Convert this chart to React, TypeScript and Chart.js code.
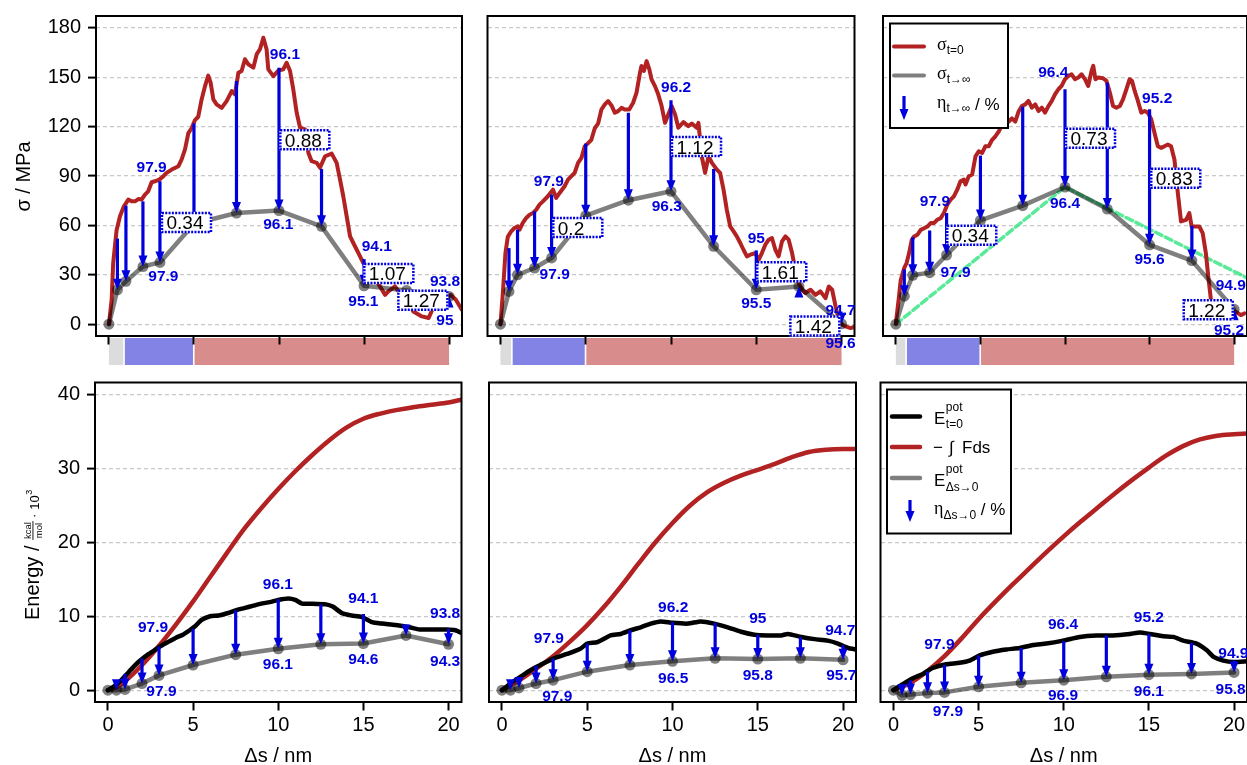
import React, { useEffect, useRef } from "react";
import { Chart, registerables } from "chart.js";
Chart.register(...registerables);

const W = 1247;
const H = 765;
const SANS = '"Liberation Sans", Arial, Helvetica, sans-serif';
const SERIF = '"Liberation Serif", "DejaVu Serif", serif';
const RED = "#b22222";
const BLUE = "#0000dd";
const GRAY_T = "rgba(0,0,0,0.5)";
const GREEN = "rgba(60,230,135,0.85)";
const STRIP_COLORS = ["#dcdcdc", "#8383e6", "#d98c8c"];

type Pair = [number, number];

// ---------------- shared axes ----------------
const xTicks = [0, 5, 10, 15, 20];
const sigmaTicks = [0, 30, 60, 90, 120, 150, 180];
const energyTicks = [0, 10, 20, 30, 40];
const samplePoints = [0, 0.5, 1, 2, 3, 5, 7.5, 10, 12.5, 15, 17.5, 20];

// ---------------- stress panel 1 ----------------
const sigmaT0_1: Pair[] = [[0,0],[0.16,14.8],[0.25,37],[0.45,57],[0.65,65.5],[0.88,71.6],[1.14,75.7],[1.33,74.6],[1.53,74.6],[1.73,76],[1.92,75.7],[2.12,78.7],[2.31,80.7],[2.51,86.2],[2.7,86.8],[2.96,87.8],[3.2,89.9],[3.39,91.9],[3.69,93.9],[3.88,94.9],[4.08,95.9],[4.27,100],[4.47,106],[4.67,116],[4.86,119],[5.06,124],[5.25,126],[5.45,136.5],[5.65,144.6],[5.84,151],[5.98,146.7],[6.14,136.5],[6.33,133.5],[6.63,131.4],[6.92,135.5],[7.22,141.6],[7.41,139.6],[7.61,152.7],[7.8,153.8],[8.0,160.9],[8.2,157.8],[8.49,155.8],[8.69,164],[8.88,167],[9.08,174],[9.27,167],[9.37,154.8],[9.67,150.7],[9.96,154],[10.25,154.8],[10.45,158.8],[10.65,153.8],[10.84,142.6],[11.04,128.4],[11.24,119.3],[11.53,118.3],[11.73,104],[11.92,99],[12.22,98],[12.41,95],[12.71,102],[13.1,103.6],[13.39,98],[13.59,87.8],[13.78,77.7],[13.98,65.5],[14.18,53.3],[14.37,49.3],[14.67,43.2],[14.96,37.1],[15.25,32],[15.55,29],[15.94,22.9],[16.24,17.8],[16.43,19.9],[16.82,22.9],[17.1,18.9],[17.5,14.8],[17.9,7.7],[18.4,4.7],[18.8,3.7],[19.1,10.8],[19.5,15.8],[20.1,17.8],[20.4,14.8],[20.75,8.7]];
const sigmaInf_1 = [0, 20.9, 26, 35, 37.5, 61, 67.5, 69, 59.4, 23.3, 20.5, 16.8];
const arrowTopS_1 = [null, 52, 72, 74.6, 86.8, 122, 147.7, 155.8, 94.3, 39.5, 16, 12];
const labelTextS_1 = ["97.9", "97.9", "96.1", "96.1", "94.1", "95.1", "93.8", "95"];
const labelXS_1 = [2.51, 3.2, 10.35, 9.96, 15.75, 14.96, 19.76, 19.76];
const labelYS_1 = [94.9, 29, 163.9, 60.4, 47.3, 13.8, 26, 2.2];
const boxTextS_1 = ["0.34", "0.88", "1.07", "1.27"];
const boxXS_1 = [3.06, 10.02, 14.96, 16.96];
const boxYS_1 = [61.8, 112, 30.8, 14.5];
const phaseBounds_1 = [0, 0.9, 5, 20];

// ---------------- stress panel 2 ----------------
const sigmaT0_2: Pair[] = [[0,0],[0.14,18.9],[0.29,43],[0.43,53],[0.63,56.4],[0.82,58.4],[1.02,59.4],[1.12,57.4],[1.31,61.5],[1.51,64.5],[1.71,66.5],[1.9,67.5],[2.1,69.6],[2.29,72.6],[2.49,74.6],[2.78,77.7],[3.08,81.7],[3.27,76.7],[3.47,79.7],[3.76,83.8],[3.96,87.8],[4.16,89.9],[4.35,91.9],[4.55,98],[4.75,101],[4.94,108],[5.14,110],[5.33,112],[5.53,119],[5.73,122],[5.92,130.4],[6.12,133.5],[6.31,135.5],[6.51,132.9],[6.71,128.4],[6.9,129.4],[7.1,131.4],[7.29,130.4],[7.55,130.4],[7.78,134.5],[7.98,140.6],[8.18,152.7],[8.27,156.8],[8.41,153.8],[8.57,159.8],[8.73,154.8],[8.86,148.7],[9.06,144.6],[9.25,139.6],[9.45,132.5],[9.65,122.3],[9.84,127.4],[10.04,132.5],[10.24,127.4],[10.43,119.3],[10.73,122.7],[11.02,120.3],[11.22,121.9],[11.51,119.3],[11.61,122.3],[11.8,102],[12,91.9],[12.2,102],[12.4,98],[12.69,93.9],[12.88,91.9],[13.08,81.7],[13.27,69.6],[13.47,59.4],[13.67,56.4],[13.86,53.3],[14.06,49.3],[14.25,45.2],[14.45,41.2],[14.65,42.2],[14.94,43.2],[15.14,39.1],[15.33,43.2],[15.53,48.3],[15.73,51.3],[15.92,52.3],[16.12,45.2],[16.31,41.2],[16.51,50.3],[16.71,53.3],[16.9,51.3],[17.1,43.2],[17.29,33.1],[17.49,24.9],[17.69,20.9],[17.88,18.9],[18.18,20.9],[18.47,17.8],[18.76,19.9],[19.06,15.8],[19.25,22.9],[19.45,20.9],[19.65,10.8],[19.84,2.6],[20.04,-0.4],[20.24,-1.4],[20.53,-2.4],[20.82,-1.4]];
const sigmaInf_2 = [0, 19.9, 30, 34.1, 40.2, 65.9, 75.3, 80.7, 47.3, 20.9, 22.9, 0.2];
const arrowTopS_2 = [null, 46.2, 57.4, 68.6, 78.7, 109.7, 128.4, 136, 94.3, 44.8, 17, 5];
const labelTextS_2 = ["97.9", "97.9", "96.2", "96.3", "95", "95.5", "94.7", "95.6"];
const labelXS_2 = [2.84, 3.18, 10.3, 9.75, 15, 15, 19.94, 19.94];
const labelYS_2 = [86.8, 30, 143.6, 71.2, 51.7, 12.4, 8.1, -11.6];
const boxTextS_2 = ["0.2", "1.12", "1.61", "1.42"];
const boxXS_2 = [3.04, 10, 15, 16.94];
const boxYS_2 = [58.7, 107.9, 31.8, -1.2];
const phaseBounds_2 = [0, 0.68, 5, 20];

// ---------------- stress panel 3 ----------------
const sigmaT0_3: Pair[] = [[0,0.4],[0.16,14.6],[0.29,26.8],[0.49,34],[0.63,37],[0.78,43],[0.94,51.2],[1.08,53.3],[1.27,54.3],[1.47,57.3],[1.67,58.3],[1.86,59.3],[2.06,61.4],[2.25,61.4],[2.45,63.4],[2.65,64.4],[2.84,67.5],[3.04,72.6],[3.24,75.6],[3.43,77.6],[3.63,81.7],[3.82,86.8],[4.02,87.8],[4.12,84.8],[4.31,89.8],[4.51,90.9],[4.71,102],[4.9,105],[5.1,104],[5.29,108],[5.49,108],[5.69,112],[5.88,114],[6.08,117],[6.27,121],[6.47,122],[6.67,123],[6.86,125],[7.06,123],[7.25,129],[7.45,132.5],[7.65,133.5],[7.84,135.6],[8.04,131.5],[8.24,133.5],[8.43,129.5],[8.63,131.5],[8.82,128.5],[9.02,132.5],[9.22,135.6],[9.41,139.6],[9.61,142.7],[9.8,144.7],[10,148.8],[10.2,150.8],[10.39,151.8],[10.59,148.8],[10.78,149.8],[10.98,151.8],[11.18,148.8],[11.37,144.7],[11.57,153.9],[11.67,156.9],[11.8,148.8],[11.96,149.8],[12.25,149.4],[12.45,147.8],[12.65,140.7],[12.84,132.5],[13.04,131.5],[13.24,132.5],[13.43,136.6],[13.63,142.7],[13.82,148.8],[13.96,147.8],[14.12,141.7],[14.31,135.6],[14.51,128.5],[14.71,129.5],[14.9,128.5],[15.1,124.4],[15.29,116.3],[15.49,108.1],[15.69,107.1],[15.88,108.1],[16.08,109.1],[16.27,108.1],[16.47,100],[16.67,79.7],[16.86,62.4],[17.16,63.4],[17.35,67.5],[17.49,59.3],[17.69,59.3],[17.94,59.3],[18.14,55.3],[18.33,43.1],[18.47,28.9],[18.63,14.6],[18.82,10.6],[19.02,8.5],[19.41,8.5],[19.8,7.5],[20.1,7.5],[20.4,5.5],[20.6,6.5]];
const sigmaInf_3 = [0, 17, 29.7, 31.3, 42, 63, 72, 83.3, 69.9, 48.2, 38.6, 9];
const arrowTopS_3 = [null, 33.3, 52.8, 56.9, 67.5, 102.4, 132.1, 142.7, 146.7, 130.5, 59.8, 7.5];
const labelTextS_3 = ["97.9", "97.9", "96.4", "96.4", "95.2", "95.6", "94.9", "95.2"];
const labelXS_3 = [2.31, 3.53, 9.31, 10, 15.45, 15, 19.8, 19.7];
const labelYS_3 = [74.6, 31.3, 152.8, 73.2, 137.2, 39, 23.2, -3.7];
const boxTextS_3 = ["0.34", "0.73", "0.83", "1.22"];
const boxXS_3 = [2.98, 10, 15.04, 16.96];
const boxYS_3 = [54, 113, 88.6, 8.7];
const phaseBounds_3 = [0, 0.62, 5, 20];
const linearRef_3: Pair[] = [[0, 0], [10, 83.3], [20.8, 27.9]];

// ---------------- energy panel 1 ----------------
const work_1: Pair[] = [[0,0],[0.5,0.4],[1,1.2],[2,3.4],[3,6.0],[4,8.9],[5,12.0],[6,15.3],[7,18.6],[8,21.8],[9,24.6],[10,27.2],[11,29.6],[12,31.8],[13,33.8],[14,35.5],[15,36.7],[16,37.4],[17,37.9],[18,38.3],[19,38.6],[20,38.9],[20.8,39.3]];
const epot0_1: Pair[] = [[0,0],[0.4,0.6],[0.8,1.4],[1.2,2.4],[1.6,3.4],[2,4.2],[2.4,4.9],[2.8,5.5],[3.2,6.1],[3.6,6.6],[4,7.1],[4.4,7.5],[4.8,8.1],[5.1,8.6],[5.5,9.5],[6,10.0],[6.5,10.1],[7,10.4],[7.5,10.8],[8,11.1],[8.5,11.4],[9,11.7],[9.5,11.9],[10,12.2],[10.6,12.4],[11,12.2],[11.4,11.7],[12,11.7],[12.8,11.6],[13.2,11.3],[13.75,10.4],[14.3,10.1],[14.9,9.9],[15.5,9.2],[16.1,9.0],[16.9,8.8],[17.7,8.5],[18.3,8.2],[19.1,8.2],[19.9,8.2],[20.4,8.1],[20.8,7.7]];
const epotInf_1 = [0, 0, 0.1, 0.9, 2, 3.4, 4.8, 5.6, 6.2, 6.3, 7.4, 6.2];
const arrowTopE_1 = [null, 1.1, 2.2, 4.3, 5.9, 8.3, 10.8, 12.3, 11.6, 10.3, 8.8, 8.3];
const labelTextE_1 = ["97.9", "97.9", "96.1", "96.1", "94.1", "94.6", "93.8", "94.3"];
const labelXE_1 = [2.65, 3.14, 9.98, 9.98, 15, 15, 19.8, 19.8];
const labelYE_1 = [8.4, -0.2, 14.2, 3.4, 12.4, 4.05, 10.4, 3.8];

// ---------------- energy panel 2 ----------------
const work_2: Pair[] = [[0,0],[1,1.3],[2,2.9],[3,4.6],[4,6.6],[5,8.8],[6,11.3],[7,14.1],[8,17.1],[9,20.0],[10,22.6],[11,24.9],[12,26.7],[13,28.0],[14,29.0],[15,29.8],[16,30.6],[17,31.5],[18,32.2],[19,32.5],[20,32.6],[20.8,32.6]];
const epot0_2: Pair[] = [[0,0],[0.5,0.9],[1.08,1.8],[1.67,2.7],[2.25,3.4],[3.04,4.3],[3.82,4.9],[4.6,5.6],[5,6.3],[5.6,6.5],[6.37,7.4],[6.96,7.6],[7.55,8.1],[8.14,8.5],[8.73,9.0],[9.31,9.3],[10,9.1],[10.9,9.0],[11.67,9.3],[12.45,9.0],[13.24,8.5],[14.02,7.9],[14.8,7.5],[15.6,7.4],[16.37,7.4],[16.76,7.6],[17.55,7.2],[18.33,6.9],[19.1,6.7],[19.7,6.3],[20.3,5.7],[20.8,5.5]];
const epotInf_2 = [0, 0, 0.3, 0.9, 1.35, 2.5, 3.4, 3.9, 4.3, 4.2, 4.3, 4.1];
const arrowTopE_2 = [null, 1.1, 1.7, 3.3, 4.3, 6.3, 8.1, 9.2, 9.1, 7.5, 7.2, 6.1];
const labelTextE_2 = ["97.9", "97.9", "96.2", "96.5", "95", "95.8", "94.7", "95.7"];
const labelXE_2 = [2.75, 3.24, 10.04, 10.04, 15, 15, 19.84, 19.9];
const labelYE_2 = [6.9, -0.9, 11.2, 1.6, 9.6, 1.9, 8.1, 1.9];

// ---------------- energy panel 3 ----------------
const work_3: Pair[] = [[0,0],[1,1.0],[2,2.6],[3,4.6],[4,7.0],[5,9.6],[6,12.0],[7,14.3],[8,16.5],[9,18.7],[10,20.8],[11,22.8],[12,24.7],[13,26.6],[14,28.4],[15,30.1],[16,31.7],[17,33.0],[18,33.9],[19,34.4],[20,34.6],[20.8,34.7]];
const epot0_3: Pair[] = [[0,0],[0.55,0.8],[1.14,1.6],[1.73,2.2],[2.31,3.0],[3.1,3.5],[3.88,3.7],[4.47,4.0],[5.06,4.7],[5.84,5.2],[6.63,5.5],[7.41,5.7],[8.2,6.1],[8.98,6.3],[9.96,6.7],[10.94,7.2],[11.92,7.4],[12.9,7.4],[13.88,7.6],[14.47,7.8],[15.06,7.6],[15.84,7.3],[16.43,7.2],[17.02,6.7],[17.8,6.3],[18.4,5.4],[18.8,4.5],[19.37,4.0],[19.96,3.8],[20.8,3.9]];
const epotInf_3 = [0, -0.7, -0.6, -0.4, -0.3, 0.45, 1, 1.35, 1.8, 2.1, 2.2, 2.4];
const arrowTopE_3 = [null, 0.7, 1.35, 2.5, 3.4, 4.7, 5.7, 6.65, 7.4, 7.6, 6.4, 4];
const labelTextE_3 = ["97.9", "97.9", "96.4", "96.9", "95.2", "96.1", "94.9", "95.8"];
const labelXE_3 = [2.7, 3.2, 9.96, 9.96, 15, 15, 19.96, 19.8];
const labelYE_3 = [6.1, -2.9, 8.8, -0.7, 9.75, -0.2, 4.9, 0];

// ---------------- helpers ----------------
const toXY = (p: Pair[]) => p.map(([x, y]) => ({ x, y }));
const onSamples = (ys: number[]) => samplePoints.map((x, i) => ({ x, y: ys[i] }));

interface Spec {
  area: [number, number, number, number];
  kind: "stress" | "energy";
  col: number;
  main: Pair[];
  black?: Pair[];
  gray: number[];
  arrowTop: (number | null)[];
  labelText: string[];
  labelX: number[];
  labelY: number[];
  boxText?: string[];
  boxX?: number[];
  boxY?: number[];
  phases?: number[];
  green?: Pair[];
}

const specs: Spec[] = [
  { area: [96, 16, 462, 336], kind: "stress", col: 0, main: sigmaT0_1, gray: sigmaInf_1, arrowTop: arrowTopS_1, labelText: labelTextS_1, labelX: labelXS_1, labelY: labelYS_1, boxText: boxTextS_1, boxX: boxXS_1, boxY: boxYS_1, phases: phaseBounds_1 },
  { area: [487.5, 16, 854.5, 336], kind: "stress", col: 1, main: sigmaT0_2, gray: sigmaInf_2, arrowTop: arrowTopS_2, labelText: labelTextS_2, labelX: labelXS_2, labelY: labelYS_2, boxText: boxTextS_2, boxX: boxXS_2, boxY: boxYS_2, phases: phaseBounds_2 },
  { area: [883, 16, 1249, 336], kind: "stress", col: 2, main: sigmaT0_3, gray: sigmaInf_3, arrowTop: arrowTopS_3, labelText: labelTextS_3, labelX: labelXS_3, labelY: labelYS_3, boxText: boxTextS_3, boxX: boxXS_3, boxY: boxYS_3, phases: phaseBounds_3, green: linearRef_3 },
  { area: [95, 382.5, 461.5, 702], kind: "energy", col: 0, main: work_1, black: epot0_1, gray: epotInf_1, arrowTop: arrowTopE_1, labelText: labelTextE_1, labelX: labelXE_1, labelY: labelYE_1 },
  { area: [489, 382.5, 856, 702], kind: "energy", col: 1, main: work_2, black: epot0_2, gray: epotInf_2, arrowTop: arrowTopE_2, labelText: labelTextE_2, labelX: labelXE_2, labelY: labelYE_2 },
  { area: [880.5, 382.5, 1248, 702], kind: "energy", col: 2, main: work_3, black: epot0_3, gray: epotInf_3, arrowTop: arrowTopE_3, labelText: labelTextE_3, labelX: labelXE_3, labelY: labelYE_3 },
];

function txt(ctx: CanvasRenderingContext2D, s: string, x: number, y: number, font: string, color = "#000", align: CanvasTextAlign = "left", base: CanvasTextBaseline = "alphabetic") {
  ctx.font = font;
  ctx.fillStyle = color;
  ctx.textAlign = align;
  ctx.textBaseline = base;
  ctx.fillText(s, x, y);
  return ctx.measureText(s).width;
}

function drawArrow(ctx: CanvasRenderingContext2D, x: number, y0: number, y1: number) {
  const dir = y1 >= y0 ? 1 : -1;
  const hl = 11;
  const hw = 4.5;
  ctx.save();
  ctx.strokeStyle = BLUE;
  ctx.fillStyle = BLUE;
  ctx.lineWidth = 3.2;
  const shaftEnd = y1 - dir * hl * 0.6;
  if ((shaftEnd - y0) * dir > 0) {
    ctx.beginPath();
    ctx.moveTo(x, y0);
    ctx.lineTo(x, shaftEnd);
    ctx.stroke();
  }
  ctx.beginPath();
  ctx.moveTo(x, y1);
  ctx.lineTo(x - hw, y1 - dir * hl);
  ctx.lineTo(x + hw, y1 - dir * hl);
  ctx.closePath();
  ctx.fill();
  ctx.restore();
}

function drawStressLegend(ctx: CanvasRenderingContext2D) {
  ctx.save();
  ctx.fillStyle = "#fff";
  ctx.fillRect(890, 23.5, 118, 104.5);
  ctx.strokeStyle = "#000";
  ctx.lineWidth = 2;
  ctx.strokeRect(890, 23.5, 118, 104.5);
  ctx.lineCap = "round";
  ctx.lineWidth = 4;
  ctx.strokeStyle = RED;
  ctx.beginPath(); ctx.moveTo(894, 46.5); ctx.lineTo(924, 46.5); ctx.stroke();
  ctx.strokeStyle = GRAY_T;
  ctx.beginPath(); ctx.moveTo(894, 75.5); ctx.lineTo(924, 75.5); ctx.stroke();
  ctx.lineCap = "butt";
  drawArrow(ctx, 904, 96, 120);
  const g = `18px ${SERIF}`;
  const s = `12px ${SANS}`;
  let w = txt(ctx, "\u03c3", 937, 50, g);
  txt(ctx, "t=0", 937 + w, 54, s);
  w = txt(ctx, "\u03c3", 937, 79, g);
  txt(ctx, "t\u2192\u221e", 937 + w, 83, s);
  w = txt(ctx, "\u03b7", 937, 108, g);
  const w2 = txt(ctx, "t\u2192\u221e", 937 + w, 112, s);
  txt(ctx, " / %", 937 + w + w2, 110, `17px ${SANS}`);
  ctx.restore();
}

function drawEnergyLegend(ctx: CanvasRenderingContext2D) {
  ctx.save();
  ctx.fillStyle = "#fff";
  ctx.fillRect(887, 389.5, 124, 144);
  ctx.strokeStyle = "#000";
  ctx.lineWidth = 2;
  ctx.strokeRect(887, 389.5, 124, 144);
  ctx.lineCap = "round";
  ctx.lineWidth = 4.5;
  ctx.strokeStyle = "#000";
  ctx.beginPath(); ctx.moveTo(892, 416.5); ctx.lineTo(920, 416.5); ctx.stroke();
  ctx.strokeStyle = RED;
  ctx.beginPath(); ctx.moveTo(892, 447); ctx.lineTo(920, 447); ctx.stroke();
  ctx.strokeStyle = GRAY_T;
  ctx.beginPath(); ctx.moveTo(892, 478); ctx.lineTo(920, 478); ctx.stroke();
  ctx.lineCap = "butt";
  drawArrow(ctx, 910, 500, 522);
  const big = `17px ${SANS}`;
  const sm = `12px ${SANS}`;
  let w = txt(ctx, "E", 934, 424, big);
  txt(ctx, "pot", 934 + w + 0.5, 411, sm);
  txt(ctx, "t=0", 934 + w + 0.5, 428, sm);
  txt(ctx, "\u2212", 933, 453, big);
  txt(ctx, "\u222b", 949, 453, big);
  txt(ctx, "Fds", 962, 453, big);
  w = txt(ctx, "E", 934, 486, big);
  txt(ctx, "pot", 934 + w + 0.5, 473, sm);
  txt(ctx, "\u0394s\u21920", 934 + w + 0.5, 490.5, sm);
  w = txt(ctx, "\u03b7", 934, 514, `18px ${SERIF}`);
  const w2 = txt(ctx, "\u0394s\u21920", 934 + w, 518.5, sm);
  txt(ctx, " / %", 934 + w + w2, 515, `17px ${SANS}`);
  ctx.restore();
}

function drawStressTitle(ctx: CanvasRenderingContext2D) {
  ctx.save();
  ctx.translate(30, 176.5);
  ctx.rotate(-Math.PI / 2);
  txt(ctx, "\u03c3 / MPa", 0, 0, `20px ${SANS}`, "#000", "center");
  ctx.restore();
}

function drawEnergyTitle(ctx: CanvasRenderingContext2D) {
  ctx.save();
  ctx.translate(38.5, 620);
  ctx.rotate(-Math.PI / 2);
  let x = 0;
  x += txt(ctx, "Energy / ", 0, 0, `20px ${SANS}`);
  const f = `9.5px ${SANS}`;
  ctx.font = f;
  const fw = Math.max(ctx.measureText("kcal").width, ctx.measureText("mol").width) + 2;
  txt(ctx, "kcal", x + fw / 2, -7.5, f, "#000", "center");
  txt(ctx, "mol", x + fw / 2, 3.5, f, "#000", "center");
  ctx.fillRect(x, -6, fw, 0.9);
  x += fw + 3;
  x += txt(ctx, "\u00b7", x, -1, `13px ${SANS}`);
  x += 4;
  x += txt(ctx, "10", x, 0, `13px ${SANS}`);
  txt(ctx, "3", x + 0.5, -7, `9px ${SANS}`);
  ctx.restore();
}

function makeChart(canvas: HTMLCanvasElement, spec: Spec) {
  const [L, T, R, B] = spec.area;
  const isStress = spec.kind === "stress";
  const yTicks = isStress ? sigmaTicks : energyTicks;
  const showY = spec.col === 0;
  const yAxisW = showY ? 70 : 0;
  const xAxisH = isStress ? 0 : 45;

  const datasets: any[] = [
    {
      data: onSamples(spec.gray),
      borderColor: GRAY_T,
      borderWidth: 4.5,
      pointRadius: 5.5,
      pointBackgroundColor: GRAY_T,
      pointBorderWidth: 0,
      tension: 0,
      order: 1,
    },
  ];
  if (spec.black) {
    datasets.push({ data: toXY(spec.black), borderColor: "#000", borderWidth: 4.5, pointRadius: 0, tension: 0.2, order: 2 });
  }
  datasets.push({
    data: toXY(spec.main),
    borderColor: RED,
    borderWidth: isStress ? 4 : 4.5,
    pointRadius: 0,
    tension: 0,
    cubicInterpolationMode: isStress ? "default" : "monotone",
    order: 3,
  });
  if (spec.green) {
    datasets.push({ data: toXY(spec.green), borderColor: GREEN, borderWidth: 3.5, borderDash: [7, 4], pointRadius: 0, tension: 0, order: 4 });
  }

  const fit = (s: any) => {
    if (s.isHorizontal()) s.height = xAxisH;
    else s.width = yAxisW;
    s.paddingLeft = 0;
    s.paddingRight = 0;
    s.paddingTop = 0;
    s.paddingBottom = 0;
  };

  const decor = {
    id: "decor",
    beforeDraw(chart: any) {
      if (!spec.phases) return;
      const ctx = chart.ctx as CanvasRenderingContext2D;
      const xs = chart.scales.x;
      const ca = chart.chartArea;
      ctx.save();
      for (let i = 0; i < spec.phases.length - 1; i++) {
        const x0 = xs.getPixelForValue(spec.phases[i]);
        const x1 = xs.getPixelForValue(spec.phases[i + 1]);
        ctx.fillStyle = STRIP_COLORS[i];
        ctx.fillRect(x0, ca.bottom + 2, x1 - x0, 27);
        if (i > 0) {
          ctx.fillStyle = "#fff";
          ctx.fillRect(x0 - 1, ca.bottom + 2, 1.6, 27);
        }
      }
      ctx.restore();
    },
    afterDatasetsDraw(chart: any) {
      const ctx = chart.ctx as CanvasRenderingContext2D;
      const xs = chart.scales.x;
      const ys = chart.scales.y;
      const ca = chart.chartArea;
      ctx.save();
      ctx.strokeStyle = "#000";
      ctx.lineWidth = 2;
      ctx.strokeRect(ca.left, ca.top, ca.right - ca.left, ca.bottom - ca.top);
      samplePoints.forEach((sx, i) => {
        const top = spec.arrowTop[i];
        if (top === null || top === undefined) return;
        drawArrow(ctx, xs.getPixelForValue(sx), ys.getPixelForValue(top), ys.getPixelForValue(spec.gray[i]));
      });
      if (spec.boxText) {
        spec.boxText.forEach((t, i) => {
          const x0 = xs.getPixelForValue(spec.boxX![i]);
          const yc = ys.getPixelForValue(spec.boxY![i]);
          ctx.fillStyle = "#fff";
          ctx.fillRect(x0, yc - 10.5, 51, 21);
          ctx.strokeStyle = BLUE;
          ctx.lineWidth = 2.5;
          ctx.setLineDash([2, 1.3]);
          ctx.strokeRect(x0 + 1, yc - 9.5, 49, 19);
          ctx.setLineDash([]);
          txt(ctx, t, x0 + 5.5, yc + 7, `19px ${SANS}`, "#000", "left");
        });
      }
      spec.labelText.forEach((t, i) => {
        txt(ctx, t, xs.getPixelForValue(spec.labelX[i]), ys.getPixelForValue(spec.labelY[i]), `bold 15.5px ${SANS}`, BLUE, "center", "middle");
      });
      if (spec.col === 2) {
        if (isStress) drawStressLegend(ctx);
        else drawEnergyLegend(ctx);
      }
      ctx.restore();
    },
    afterDraw(chart: any) {
      const ctx = chart.ctx as CanvasRenderingContext2D;
      const ca = chart.chartArea;
      if (spec.col === 0) {
        if (isStress) drawStressTitle(ctx);
        else drawEnergyTitle(ctx);
      }
      if (!isStress) {
        ctx.save();
        txt(ctx, "\u0394s / nm", (ca.left + ca.right) / 2, 761.5, `20px ${SANS}`, "#000", "center");
        ctx.restore();
      }
    },
  };

  return new Chart(canvas, {
    type: "line",
    data: { datasets },
    options: {
      responsive: false,
      maintainAspectRatio: false,
      devicePixelRatio: 1,
      animation: false,
      events: [],
      layout: { autoPadding: false, padding: { left: L - yAxisW, top: T, right: W - R, bottom: H - B - xAxisH } },
      plugins: { legend: { display: false }, tooltip: { enabled: false } },
      elements: { line: { borderJoinStyle: "round", borderCapStyle: "round" } },
      scales: {
        x: {
          type: "linear",
          min: -0.76,
          max: 20.76,
          afterBuildTicks: (s: any) => { s.ticks = xTicks.map((v) => ({ value: v })); },
          afterFit: fit,
          grid: { display: true, drawOnChartArea: false, drawTicks: true, tickLength: 8.5, tickWidth: 2, tickColor: "#000", tickBorderDash: [], color: "#000" },
          border: { display: false },
          ticks: { display: !isStress, padding: 3, color: "#000", autoSkip: false, maxRotation: 0, font: { family: SANS, size: 20 } },
        },
        y: {
          type: "linear",
          min: isStress ? -7.2 : -1.6,
          max: isStress ? 187.2 : 41.6,
          afterBuildTicks: (s: any) => { s.ticks = yTicks.map((v) => ({ value: v })); },
          afterFit: fit,
          grid: { display: true, drawOnChartArea: true, drawTicks: showY, tickLength: 8, tickWidth: 2, tickColor: "#000", tickBorderDash: [], color: "#c8c8c8", lineWidth: 1.2 },
          border: { display: false, dash: [4, 3] },
          ticks: { display: showY, padding: 7, color: "#000", autoSkip: false, font: { family: SANS, size: 20 } },
        },
      },
    } as any,
    plugins: [decor],
  });
}

export default function App() {
  const refs = useRef<(HTMLCanvasElement | null)[]>([]);
  useEffect(() => {
    const charts = specs.map((s, i) => makeChart(refs.current[i] as HTMLCanvasElement, s));
    return () => charts.forEach((c) => c.destroy());
  }, []);
  return (
    <div style={{ position: "absolute", left: 0, top: 0, width: W, height: H, background: "#fff", overflow: "hidden" }}>
      {specs.map((_, i) => (
        <canvas
          key={i}
          ref={(el) => { refs.current[i] = el; }}
          width={W}
          height={H}
          style={{ position: "absolute", left: 0, top: 0, width: W, height: H }}
        />
      ))}
    </div>
  );
}
